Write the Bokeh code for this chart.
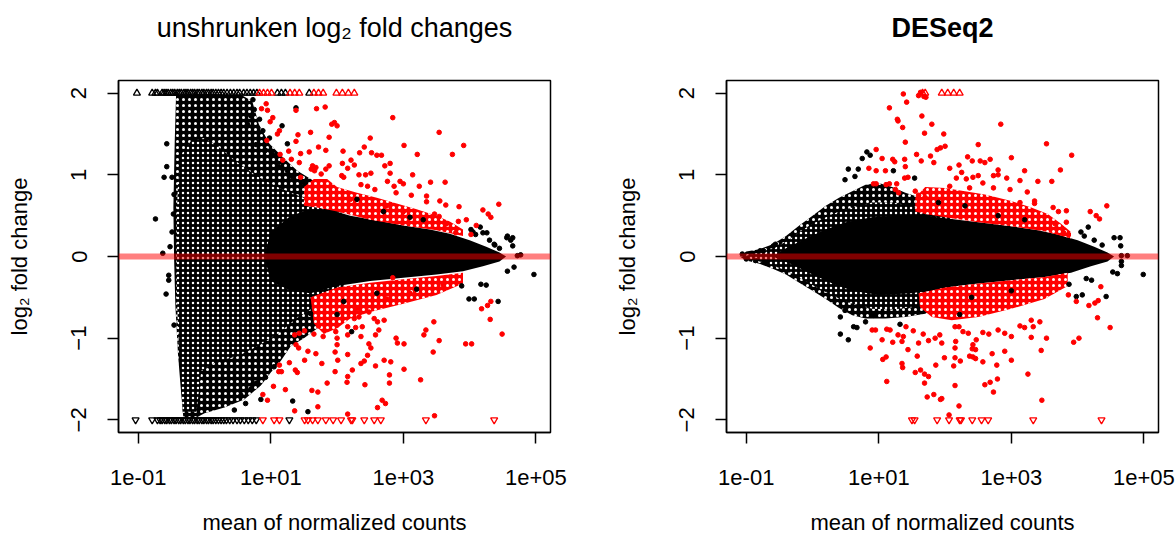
import math
from bokeh.plotting import figure
from bokeh.models import (Range1d, FixedTicker, CustomJSTickFormatter, Span, ColumnDataSource,
                          Title)
from bokeh.layouts import row
from bokeh.embed import file_html
from bokeh.resources import INLINE

# ------------------------------------------------------------------
# Values (x = log10 of mean normalized count,
# y = log2 fold change).  Dense point clouds are given as outlines.
# ------------------------------------------------------------------
x_ticks = [0.1, 10, 1000, 100000]
y_ticks = [-2, -1, 0, 1, 2]
titles = ["unshrunken log\u2082 fold changes", "DESeq2"]

# ---------------- left panel: unshrunken ----------------
L_sparse_cloud = [(-0.46, 0.00), (-0.47, 0.60), (-0.46, 1.00), (-0.45, 1.40), (-0.43, 1.97),
                  (-0.20, 1.98), (0.20, 1.98), (0.55, 1.98), (0.72, 1.90), (0.82, 1.62),
                  (0.98, 1.38), (1.20, 1.20), (1.40, 1.05), (1.70, 0.90), (2.00, 0.80),
                  (2.20, 0.00), (2.00, -0.70), (1.75, -0.85), (1.50, -1.00), (1.30, -1.10),
                  (1.15, -1.28), (1.00, -1.42), (0.85, -1.58), (0.60, -1.75), (0.30, -1.85),
                  (0.00, -1.92), (-0.12, -1.97), (-0.32, -1.97), (-0.36, -1.60), (-0.40, -1.20),
                  (-0.44, -0.60)]
L_dense_cloud = [(-0.42, 0.00), (-0.42, 0.50), (-0.40, 0.90), (-0.35, 1.25), (-0.20, 1.42),
                 (0.00, 1.45), (0.20, 1.35), (0.50, 1.15), (0.80, 0.98), (1.10, 0.85), (1.40, 0.75),
                 (1.70, 0.65), (2.00, 0.60), (2.10, 0.00), (2.00, -0.50), (1.70, -0.60),
                 (1.40, -0.75), (1.10, -0.95), (0.80, -1.10), (0.50, -1.22), (0.20, -1.28),
                 (-0.05, -1.40), (-0.12, -1.90), (-0.33, -1.90), (-0.36, -1.40), (-0.40, -0.90),
                 (-0.42, -0.40)]
L_core = [(0.90, 0.00), (1.00, 0.30), (1.30, 0.50), (1.60, 0.58), (1.90, 0.57),
          (2.20, 0.50), (2.60, 0.44), (3.00, 0.38), (3.40, 0.33), (3.70, 0.28), (4.00, 0.20),
          (4.25, 0.12), (4.45, 0.05), (4.55, 0.00), (4.45, -0.06), (4.20, -0.12), (3.90, -0.18),
          (3.50, -0.22), (3.00, -0.26), (2.50, -0.30), (2.00, -0.36), (1.60, -0.45), (1.30, -0.42),
          (1.00, -0.30)]
L_red_band_up = [(1.50, 0.85), (1.65, 0.95), (1.85, 0.95), (2.00, 0.85), (2.30, 0.78), (2.60, 0.72),
                 (2.90, 0.65), (3.20, 0.58), (3.50, 0.50), (3.70, 0.43), (3.90, 0.33), (3.90, 0.25),
                 (3.50, 0.32), (3.00, 0.38), (2.50, 0.45), (2.00, 0.55), (1.70, 0.60), (1.50, 0.62)]
L_red_band_dn = [(1.60, -0.50), (2.00, -0.38), (2.50, -0.32), (3.00, -0.28), (3.50, -0.24),
                 (3.90, -0.20), (3.90, -0.33), (3.50, -0.47), (3.00, -0.58), (2.50, -0.68),
                 (2.20, -0.76), (2.00, -0.88), (1.80, -0.95), (1.65, -0.82)]
L_black_pts = [(-0.74, 0.46), (-0.63, 0.04), (-0.57, 1.38), (-0.57, 1.10), (-0.61, 0.97), (-0.49, 0.97),
               (-0.46, 0.76), (-0.47, 0.52), (-0.49, 0.30), (-0.52, 0.12), (-0.58, -0.46), (-0.54, -0.23),
               (-0.54, -0.29), (-0.46, -0.84), (1.38, 1.82), (1.33, -1.77), (1.56, -1.90), (2.22, -0.92),
               (2.00, -0.71), (3.99, -0.52), (4.07, -0.52), (4.43, -0.55), (4.17, -0.34), (4.25, -0.35),
               (3.88, -0.36), (4.67, -0.13), (4.57, -0.18), (4.97, -0.22), (4.57, 0.25), (4.65, 0.13),
               (4.62, 0.20), (4.72, 0.01), (4.77, 0.02), (4.16, 0.36), (4.05, 0.30), (4.30, 0.20),
               (4.38, 0.14), (4.45, 0.10), (4.02, 0.33), (4.09, 0.27), (4.20, 0.29), (4.26, 0.29),
               (4.37, 0.15), (4.56, 0.23), (4.65, 0.23), (1.17, 1.60), (1.25, 1.38), (0.98, 1.45),
               (2.30, 0.70), (2.70, 0.55), (3.10, 0.48), (3.30, 0.45), (2.10, -0.55), (2.60, -0.45),
               (3.20, -0.40), (1.50, 0.90), (1.60, -0.70),
               (0.73, 1.92), (0.75, 1.80), (0.65, 1.62), (0.88, 1.54), (0.78, 1.37), (1.03, 1.25),
               (0.92, 1.30), (0.70, 1.72), (0.83, 1.68), (1.12, 1.10), (1.25, 1.05), (1.32, 0.98),
               (0.62, -1.80), (0.70, -1.62), (0.78, -1.55), (0.55, -1.70), (0.92, -1.48),
               (1.05, -1.35), (0.45, -1.88), (0.85, -1.75)]
L_red_pts = [(0.93, 1.87), (0.86, 1.81), (0.95, 1.79), (1.38, 1.79), (1.69, 1.81), (1.82, 1.83),
             (1.03, 1.70), (0.99, 1.65), (1.92, 1.62), (1.13, 1.54), (1.10, 1.50), (0.94, 1.42),
             (1.41, 1.49), (1.38, 1.41), (1.60, 1.52), (1.88, 1.46), (1.72, 1.34), (1.83, 1.30),
             (1.27, 1.29), (1.14, 1.25), (1.18, 1.18), (1.58, 1.28), (1.45, 1.26), (1.31, 1.19),
             (1.43, 1.15), (1.63, 1.11), (1.68, 1.09), (1.61, 1.07), (1.66, 1.05), (1.76, 1.01),
             (1.83, 1.07), (1.88, 1.11), (1.45, 0.97),
             (2.84, 1.70), (3.54, 1.52), (3.91, 1.36), (3.74, 1.25), (2.50, 1.45), (2.41, 1.34),
             (3.01, 1.36), (3.21, 1.25), (2.09, 1.29), (2.34, 1.27), (2.52, 1.27), (2.60, 1.24),
             (2.67, 1.24), (2.21, 1.18), (2.26, 1.12), (2.08, 1.14), (2.16, 1.08), (2.72, 1.11),
             (2.80, 1.14), (1.96, 1.64), (2.00, 1.60), (3.14, 1.00), (3.41, 0.91), (3.63, 0.91),
             (3.24, 0.86), (3.00, 0.89), (2.95, 0.92), (2.76, 0.92), (2.80, 1.02), (2.51, 1.02),
             (2.43, 1.00), (2.33, 1.00), (2.07, 0.99), (2.10, 0.97), (2.36, 0.88), (2.46, 0.86),
             (2.57, 0.82), (2.86, 0.86), (2.89, 0.78), (3.35, 0.74), (3.35, 0.67), (3.64, 0.63),
             (3.84, 0.61), (4.44, 0.64), (4.20, 0.57), (4.28, 0.52), (4.32, 0.48), (3.83, 0.43),
             (3.47, 0.52), (3.54, 0.49), (3.79, 0.29), (4.02, 0.27), (3.12, 0.75), (3.55, 0.68),
             (3.95, 0.45), (4.10, 0.38),
             (2.84, -0.26), (2.31, -0.64), (2.33, -0.74), (2.26, -0.76), (2.48, -0.68), (2.56, -0.76),
             (2.00, -0.84), (1.98, -0.92), (2.00, -1.00), (2.16, -0.86), (2.28, -0.87), (2.38, -0.86),
             (2.16, -0.96), (2.36, -0.98), (2.48, -1.07), (2.51, -1.12), (2.61, -0.80), (2.71, -0.78),
             (2.63, -0.90), (2.58, -0.96), (2.89, -1.00), (2.91, -1.06), (3.01, -1.07), (3.31, -0.96),
             (3.34, -0.90), (3.46, -0.80), (3.54, -1.03), (3.45, -1.17), (3.94, -1.07), (4.03, -1.07),
             (4.49, -0.95), (4.31, -0.77), (4.18, -0.64), (4.27, -0.60), (4.32, -0.55), (2.16, -1.20),
             (2.01, -1.27), (2.46, -1.21), (2.41, -1.28), (2.36, -1.31), (2.23, -1.39), (2.16, -1.47),
             (2.15, -1.54), (2.42, -1.57), (2.58, -1.34), (2.71, -1.27), (2.81, -1.29), (2.79, -1.45),
             (2.79, -1.55), (3.01, -1.38), (3.26, -1.51), (2.68, -1.76), (2.73, -1.80), (2.61, -1.85),
             (2.16, -1.93), (3.47, -1.95), (1.97, -1.41), (1.97, -1.17), (2.00, -1.08),
             (0.88, -1.69), (0.95, -1.76), (1.04, -1.59), (1.12, -1.41), (1.16, -1.41), (1.13, -1.33),
             (1.28, -1.30), (1.22, -1.63), (1.37, -1.39), (1.40, -1.42), (1.51, -1.27), (1.38, -1.08),
             (1.42, -1.12), (1.36, -0.96), (1.43, -0.94), (1.51, -0.91), (1.56, -1.16), (1.68, -1.19),
             (1.77, -1.31), (1.62, -1.64), (1.71, -1.66), (1.71, -1.84), (1.85, -1.55), (1.36, -1.89),
             (1.72, -0.85), (1.79, -0.98), (1.65, -0.95), (3.00, 0.55), (2.75, 0.62), (3.65, 0.40),
             (2.20, 0.70), (3.10, -0.45), (2.75, -0.52), (3.60, -0.35)]
L_black_up_tri = [-1.02, -0.79, -0.74, -0.71, -0.64, -0.61, -0.58, -0.55, -0.51, -0.48, -0.45, -0.41,
                  -0.38, -0.35, -0.31, -0.28, -0.25, -0.21, -0.18, -0.15, -0.11, -0.08, -0.04, -0.01,
                  0.03, 0.06, 0.10, 0.13, 0.17, 0.21, 0.25, 0.29, 0.34, 0.39, 0.44, 0.49, 0.53, 0.59,
                  0.64, 0.69, 0.74, 0.79, 1.10, 1.16, 1.22, 1.58]
L_red_up_tri = [0.83, 0.89, 0.95, 1.01, 1.29, 1.36, 1.43, 1.65, 1.72, 1.79, 1.99, 2.08, 2.17, 2.26]
L_black_dn_tri = [-1.04, -0.79, -0.71, -0.67, -0.64, -0.60, -0.57, -0.53, -0.50, -0.46, -0.43, -0.39,
                  -0.36, -0.32, -0.29, -0.25, -0.22, -0.18, -0.15, -0.11, -0.08, -0.04, -0.01, 0.03,
                  0.06, 0.10, 0.13, 0.17, 0.21, 0.25, 0.29, 0.33, 0.38, 0.43, 0.49, 0.54, 0.60, 0.66,
                  0.72, 0.78, 1.28]
L_red_dn_tri = [0.88, 1.05, 1.13, 1.51, 1.56, 1.63, 1.71, 1.83, 1.94, 2.06, 2.21, 2.23, 2.41, 2.56,
                2.66, 3.34, 4.37]

# ---------------- right panel: DESeq2 (shrunken) ----------------
R_sparse_cloud = [(-1.10, 0.00), (-1.00, 0.06), (-0.80, 0.09), (-0.60, 0.15), (-0.40, 0.25),
                  (-0.20, 0.38), (0.00, 0.50), (0.20, 0.62), (0.40, 0.72), (0.60, 0.80), (0.80, 0.88),
                  (1.00, 0.90), (1.20, 0.85), (1.40, 0.78), (1.70, 0.70), (2.00, 0.60), (2.30, 0.00),
                  (2.00, -0.55), (1.70, -0.70), (1.40, -0.74), (1.10, -0.76), (0.80, -0.76),
                  (0.60, -0.72), (0.40, -0.63), (0.20, -0.52), (0.00, -0.42), (-0.20, -0.32),
                  (-0.40, -0.22), (-0.60, -0.15), (-0.80, -0.09), (-1.00, -0.05)]
R_dense_cloud = [(-1.05, 0.00), (-0.80, 0.05), (-0.60, 0.10), (-0.40, 0.18), (-0.20, 0.30),
                 (0.00, 0.40), (0.30, 0.52), (0.60, 0.60), (0.90, 0.66), (1.20, 0.66), (1.50, 0.62),
                 (1.80, 0.56), (2.10, 0.50), (2.20, 0.00), (2.10, -0.45), (1.80, -0.55), (1.50, -0.62),
                 (1.20, -0.65), (0.90, -0.64), (0.60, -0.58), (0.30, -0.48), (0.00, -0.35),
                 (-0.20, -0.26), (-0.40, -0.17), (-0.60, -0.11), (-0.80, -0.06)]
R_core = [(-0.60, 0.00), (-0.40, 0.10), (-0.10, 0.22), (0.20, 0.33), (0.50, 0.42), (0.90, 0.48),
          (1.30, 0.50), (1.70, 0.50), (2.10, 0.46), (2.50, 0.42), (3.00, 0.37), (3.40, 0.32),
          (3.70, 0.27), (4.00, 0.20), (4.25, 0.12), (4.45, 0.05), (4.55, 0.00), (4.45, -0.06),
          (4.20, -0.12), (3.90, -0.20), (3.50, -0.25), (3.00, -0.29), (2.50, -0.33), (2.00, -0.38),
          (1.50, -0.45), (1.00, -0.47), (0.60, -0.42), (0.30, -0.33), (0.00, -0.22), (-0.30, -0.10)]
R_red_band_up = [(1.55, 0.72), (1.70, 0.85), (2.00, 0.84), (2.30, 0.80), (2.60, 0.76), (3.00, 0.68),
                 (3.30, 0.60), (3.55, 0.52), (3.75, 0.40), (3.90, 0.30), (3.90, 0.22), (3.50, 0.31),
                 (3.00, 0.37), (2.50, 0.42), (2.00, 0.48), (1.70, 0.52), (1.55, 0.55)]
R_red_band_dn = [(1.60, -0.45), (2.00, -0.38), (2.50, -0.33), (3.00, -0.29), (3.50, -0.25),
                 (3.85, -0.20), (3.85, -0.36), (3.50, -0.52), (3.00, -0.64), (2.50, -0.74),
                 (2.10, -0.78), (1.80, -0.74), (1.62, -0.62)]
R_black_pts = [(-1.06, 0.03), (-0.79, 0.07), (-0.74, 0.07), (-0.59, 0.13), (-0.56, 0.15), (-1.00, -0.03),
               (-0.86, -0.05), (-0.71, -0.07), (0.54, 1.07), (0.69, 1.07), (0.49, 0.94), (0.64, 0.98),
               (0.75, 1.20), (0.82, 1.28), (0.87, 1.24), (1.22, 1.05), (1.54, 0.96), (0.42, -0.74),
               (0.49, -0.66), (0.42, -0.95), (0.54, -1.02), (0.62, -0.86), (0.67, -0.87), (0.80, -0.80),
               (0.92, -0.72), (1.32, -0.83), (3.87, -0.34), (3.98, -0.49), (4.07, -0.47), (4.21, -0.29),
               (4.13, -0.27), (4.43, -0.49), (4.53, -0.19), (4.60, -0.21), (4.66, -0.11), (4.66, -0.06),
               (4.99, -0.22), (2.22, -0.71), (4.16, 0.36), (4.37, 0.14), (4.55, 0.23), (4.64, 0.23),
               (4.65, 0.13), (4.66, 0.01), (4.75, 0.01), (4.05, 0.30), (4.10, 0.25), (4.25, 0.20),
               (2.30, 0.62), (2.80, 0.50), (3.20, 0.45), (2.40, -0.50), (3.00, -0.42), (1.90, 0.66)]
R_red_pts = [(1.37, 1.99), (1.63, 2.01), (1.60, 1.97), (1.68, 1.96), (1.71, 1.95), (1.42, 1.89),
             (1.16, 1.82), (1.29, 1.66), (1.28, 1.68), (1.36, 1.58), (1.65, 1.72), (1.80, 1.62),
             (1.69, 1.51), (1.40, 1.40), (1.93, 1.33), (1.88, 1.31), (0.96, 1.31), (1.05, 1.20),
             (1.21, 1.19), (1.24, 1.16), (1.39, 1.19), (1.40, 1.10), (1.57, 1.25), (1.64, 1.17),
             (0.85, 1.08), (0.96, 1.05), (1.10, 1.05), (0.92, 0.89), (0.96, 0.89), (1.11, 0.88),
             (1.16, 0.89), (1.27, 0.89), (1.39, 0.96), (1.44, 0.97), (1.25, 0.82), (1.30, 0.78),
             (1.78, 1.23), (1.83, 1.15),
             (2.84, 1.62), (1.98, 1.50), (2.00, 1.35), (2.50, 1.37), (3.53, 1.38), (3.91, 1.24),
             (3.00, 1.21), (2.34, 1.22), (2.41, 1.17), (2.53, 1.17), (2.60, 1.15), (2.68, 1.19),
             (2.07, 1.08), (2.21, 1.12), (2.25, 1.03), (2.80, 1.06), (2.73, 0.99), (2.80, 1.00),
             (3.20, 1.05), (3.74, 1.06), (2.17, 0.96), (2.32, 0.95), (2.42, 0.97), (2.50, 0.99),
             (2.57, 0.90), (2.93, 0.96), (3.13, 0.93), (3.40, 0.92), (3.61, 0.92), (2.07, 0.86),
             (2.37, 0.84), (2.73, 0.84), (2.98, 0.82), (3.24, 0.79), (4.44, 0.62), (4.19, 0.55),
             (4.28, 0.50), (4.33, 0.46), (3.63, 0.60), (3.71, 0.55), (3.83, 0.56), (3.83, 0.42),
             (3.79, 0.29), (3.66, 0.40), (3.35, 0.68), (3.35, 0.65), (3.13, 0.66), (1.55, 0.80),
             (1.60, 0.75), (1.70, 0.72),
             (0.87, -1.12), (0.90, -0.90), (0.95, -0.90), (1.05, -1.02), (1.12, -0.89), (1.17, -0.90),
             (1.21, -1.05), (1.29, -0.96), (1.37, -0.98), (1.35, -1.04), (1.44, -1.14), (1.06, -1.26),
             (1.11, -1.23), (1.35, -1.31), (1.36, -1.36), (1.12, -1.53), (1.55, -1.42), (1.63, -1.39),
             (1.69, -1.44), (1.69, -1.55), (1.75, -1.47), (1.58, -1.22), (1.83, -1.69), (1.73, -1.72),
             (1.93, -1.75), (1.86, -1.33), (1.41, -0.86), (1.52, -0.91), (1.67, -0.95), (1.75, -1.03),
             (1.85, -1.00), (1.60, -1.06),
             (3.46, -1.76), (3.25, -1.44), (2.60, -1.57), (2.68, -1.54), (2.73, -1.66), (2.79, -1.50),
             (2.15, -1.58), (2.21, -1.83), (2.06, -1.94), (1.95, -1.74), (1.99, -1.24), (2.15, -1.24),
             (2.13, -1.34), (2.23, -1.28), (2.37, -1.22), (2.42, -1.23), (2.46, -1.25), (2.57, -1.29),
             (2.71, -1.19), (2.78, -1.33), (3.00, -1.27), (2.90, -1.16), (3.45, -1.15), (3.30, -0.99),
             (3.53, -1.00), (3.94, -1.05), (4.02, -1.00), (4.30, -0.75), (4.49, -0.87), (4.35, -0.37),
             (4.26, -0.57), (4.31, -0.54), (4.17, -0.60), (3.86, -0.47), (3.98, -0.55), (2.42, -1.08),
             (2.47, -1.02), (2.41, -1.13), (2.46, -1.14), (2.15, -1.12), (2.16, -1.04), (1.92, -0.96),
             (1.95, -1.06), (2.27, -0.92), (2.35, -0.94), (2.57, -0.93), (2.66, -0.95), (2.80, -0.90),
             (2.90, -0.94), (3.00, -0.98), (3.13, -0.85), (3.20, -0.87), (3.33, -0.86), (3.30, -0.78),
             (3.43, -0.80), (2.15, -0.86), (2.21, -0.86)]
R_black_up_tri = []
R_red_up_tri = [1.66, 1.70, 1.95, 2.04, 2.13, 2.22]
R_black_dn_tri = []
R_red_dn_tri = [1.50, 1.54, 1.88, 2.06, 2.22, 2.24, 2.41, 2.55, 2.65, 3.33, 4.36]

# ------------------------------------------------------------------
FONT = "Liberation Sans"
LABEL_PX = "22px"
TITLE_PX = "27px"
X_LO, X_HI = 10 ** -1.298, 10 ** 5.22
Y_LO, Y_HI = -2.155, 2.155

fmt = CustomJSTickFormatter(code="""
const e = Math.round(Math.log10(tick));
const a = Math.abs(e);
return "1e" + (e < 0 ? "-" : "+") + (a < 10 ? "0" + a : "" + a);
""")


def poly(pairs):
    return [10 ** p[0] for p in pairs], [p[1] for p in pairs]


def make_panel(title, bold, border_left, border_right, sparse, dense, core, band_up, band_dn,
               black_pts, red_pts, b_up, r_up, b_dn, r_dn):
    p = figure(width=588, height=537, x_axis_type="log", output_backend="svg", title=None,
               toolbar_location=None, x_range=Range1d(X_LO, X_HI), y_range=Range1d(Y_LO, Y_HI),
               min_border_left=border_left, min_border_right=border_right,
               min_border_top=80, min_border_bottom=104)
    p.background_fill_color = "white"
    p.border_fill_color = "white"
    p.outline_line_color = "black"
    p.outline_line_width = 1.5
    p.grid.visible = False

    # empty spacer right above the frame, then the real title above it
    p.add_layout(Title(text=" ", text_font=FONT, text_font_size="10px", standoff=25), "above")
    p.add_layout(Title(text=title, align="center", text_font=FONT, text_font_size=TITLE_PX,
                       text_font_style="bold" if bold else "normal", text_color="black",
                       standoff=0), "above")

    for ax in (p.xaxis[0], p.yaxis[0]):
        ax.major_tick_in = 0
        ax.major_tick_out = 11
        ax.minor_tick_in = 0
        ax.minor_tick_out = 0
        ax.axis_line_width = 1.5
        ax.major_tick_line_width = 1.5
        ax.major_label_text_font = FONT
        ax.major_label_text_font_size = LABEL_PX
        ax.major_label_text_color = "black"
        ax.axis_label_text_font = FONT
        ax.axis_label_text_font_size = LABEL_PX
        ax.axis_label_text_font_style = "normal"
        ax.axis_label_text_color = "black"
    p.xaxis.ticker = FixedTicker(ticks=x_ticks)
    p.xaxis.formatter = fmt
    p.xaxis.axis_label = "mean of normalized counts"
    p.xaxis.major_label_standoff = 26
    p.xaxis.axis_label_standoff = 22
    p.yaxis.ticker = FixedTicker(ticks=y_ticks)
    p.yaxis.major_label_orientation = "vertical"
    p.yaxis.axis_label = "log\u2082 fold change"
    p.yaxis.major_label_standoff = 21
    p.yaxis.axis_label_standoff = 37

    # dense clouds drawn as outlines
    xs, ys = poly(sparse)
    p.patch(xs, ys, fill_color="black", line_color=None, hatch_pattern="dot",
            hatch_color="white", hatch_scale=6, hatch_weight=3.2)
    xs, ys = poly(dense)
    p.patch(xs, ys, fill_color="black", line_color=None, hatch_pattern="dot",
            hatch_color="white", hatch_scale=5, hatch_weight=0.8)
    xs, ys = poly(core)
    p.patch(xs, ys, fill_color="black", line_color=None)
    for band in (band_up, band_dn):
        xs, ys = poly(band)
        p.patch(xs, ys, fill_color="red", line_color=None, hatch_pattern="dot",
                hatch_color="white", hatch_scale=6, hatch_weight=1.8)

    # individual points
    xs, ys = poly(black_pts)
    p.scatter(xs, ys, marker="circle", size=4.6, color="black")
    xs, ys = poly(red_pts)
    p.scatter(xs, ys, marker="circle", size=4.6, color="red")

    # out-of-range genes as open triangles at the y limits
    for vals, col, mk, yv in ((b_up, "black", "triangle", 2), (r_up, "red", "triangle", 2),
                              (b_dn, "black", "inverted_triangle", -2),
                              (r_dn, "red", "inverted_triangle", -2)):
        if vals:
            src = ColumnDataSource(dict(x=[10 ** v for v in vals], y=[yv] * len(vals)))
            p.scatter("x", "y", source=src, marker=mk, size=7, fill_color=None,
                      line_color=col, line_width=1.3)

    p.add_layout(Span(location=0, dimension="width", line_color="red", line_alpha=0.5,
                      line_width=6))
    return p


p1 = make_panel(titles[0], False, 118, 38, L_sparse_cloud, L_dense_cloud, L_core, L_red_band_up,
                L_red_band_dn, L_black_pts, L_red_pts, L_black_up_tri, L_red_up_tri,
                L_black_dn_tri, L_red_dn_tri)
p2 = make_panel(titles[1], True, 138, 18, R_sparse_cloud, R_dense_cloud, R_core, R_red_band_up,
                R_red_band_dn, R_black_pts, R_red_pts, R_black_up_tri, R_red_up_tri,
                R_black_dn_tri, R_red_dn_tri)

layout = row(p1, p2)
open("out.html", "w").write(file_html(layout, INLINE))
